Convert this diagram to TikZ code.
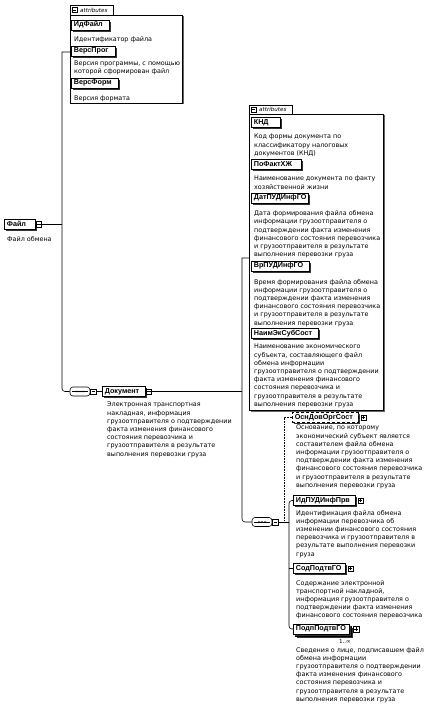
\documentclass[tikz,border=0pt]{standalone}
\usepackage{fontspec}
\setmainfont{DejaVu Sans}
\newfontfamily\nmfam{Liberation Sans}
\usetikzlibrary{shadows}
\newcommand\dscf{\fontsize{6.4}{8.2}\selectfont}
\newcommand\nmf{\nmfam\fontsize{7.2}{7.5}\selectfont\bfseries}
\tikzset{
  conn/.style={line width=0.6pt},
  opt/.style={line width=0.6pt, densely dotted},
  el/.style={draw, fill=white, line width=0.75pt, inner xsep=2.5pt, inner ysep=0pt, anchor=west,
    minimum height=10pt, font=\nmf, align=left, text width=#1,
    drop shadow={shadow xshift=1.8pt, shadow yshift=-1.8pt, fill=black!80, opacity=1}},
  optel/.style={el=#1, densely dashed},
  sq/.style={draw, fill=white, line width=0.5pt, minimum size=5.5pt, inner sep=0pt, anchor=west},
  desc/.style={anchor=north west, inner sep=0pt, align=left, font=\dscf},
  seqs/.style={draw, fill=white, rounded corners=3pt, minimum width=20pt,
    minimum height=9pt, inner sep=0pt, line width=0.6pt},
  panel/.style={draw, fill=white, line width=0.6pt, anchor=north west, inner sep=0pt,
    drop shadow={shadow xshift=1.2pt, shadow yshift=-1.2pt, fill=black!60, opacity=1}},
  tabbox/.style={draw, fill=white, line width=0.6pt, anchor=north west, inner sep=0pt,
    minimum width=43pt, minimum height=10pt},
  tabtxt/.style={anchor=west, inner sep=0pt, font=\fontsize{5.6}{6}\selectfont\itshape},
}
\newcommand\minussign[1]{\draw[line width=0.5pt] ([xshift=1.2pt]#1.west) -- ([xshift=-1.2pt]#1.east);}
\newcommand\plussign[1]{\minussign{#1}\draw[line width=0.5pt] ([yshift=-1.2pt]#1.north) -- ([yshift=1.2pt]#1.south);}
\begin{document}
\begin{tikzpicture}[x=1pt,y=-1pt]
\useasboundingbox[fill=white] (0,0) rectangle (433,706);

% ---------- panel 1 (attributes of Файл)
\node[panel, minimum width=112pt, minimum height=88pt] (pa) at (70,15) {};
\node[tabbox] (ta) at (70,5) {};
\node[sq, minimum size=5pt] (tas) at (72,10) {};
\minussign{tas}
\node[tabtxt] (tat) at (80,10) {attributes};

\node[el=33pt] (p1) at (71,25) {ИдФайл};
\node[desc] (p1d) at (74,36.3) {Идентификатор файла};
\node[el=39pt] (p2) at (71,51) {ВерсПрог};
\node[desc] (p2d) at (74,60.3) {Версия программы, с помощью\\которой сформирован файл};
\node[el=42pt] (p3) at (71,83) {ВерсФорм};
\node[desc] (p3d) at (74,95.5) {Версия формата};

% ---------- root element
\node[el=26pt] (f) at (4,224) {Файл};
\node[sq] (fm) at (f.east) {};
\minussign{fm}
\node[desc] (fd) at (7,236) {Файл обмена};

\coordinate (v1top) at (62,52);
\draw[conn] (fm.east) -- (fm.east -| v1top);

% ---------- sequence 1 and Документ
\node[seqs] (s1) at (80,391.5) {};
\draw[line width=0.6pt] ([xshift=2.5pt]s1.west) -- ([xshift=-2.5pt]s1.east);
\fill ([xshift=-3pt]s1.center) circle (0.9pt) (s1.center) circle (0.9pt) ([xshift=3pt]s1.center) circle (0.9pt);
\node[sq] (s1m) at (s1.east) {};
\minussign{s1m}

\draw[conn] (v1top -| pa.west) -- (v1top) [rounded corners=3pt] |- (s1.west);

\node[el=38pt] (d) at (102,391.5) {Документ};
\node[sq] (dm) at (d.east) {};
\minussign{dm}
\draw[conn] (s1m.east) -- (d.west);
\node[desc] (dd) at (107,402) {Электронная транспортная\\накладная, информация\\грузоотправителя о подтверждении\\факта изменения финансового\\состояния перевозчика и\\грузоотправителя в результате\\выполнения перевозки груза};

% ---------- panel 2 (attributes of Документ)
\node[panel, minimum width=134pt, minimum height=296pt] (pb) at (249,114) {};
\node[tabbox, minimum height=9pt] (tb) at (249,105) {};
\node[sq, minimum size=5pt] (tbs) at (251,109.5) {};
\minussign{tbs}
\node[tabtxt] (tbt) at (259,109.5) {attributes};

\node[el=24pt] (q1) at (251,122.5) {КНД};
\node[desc] (q1d) at (254,134) {Код формы документа по\\классификатору налоговых\\документов (КНД)};
\node[el=45pt] (q2) at (251,164.5) {ПоФактХЖ};
\node[desc] (q2d) at (254,176) {Наименование документа по факту\\хозяйственной жизни};
\node[el=52pt] (q3) at (251,198) {ДатПУДИнфГО};
\node[desc] (q3d) at (254,210.5) {Дата формирования файла обмена\\информации грузоотправителя о\\подтверждении факта изменения\\финансового состояния перевозчика\\и грузоотправителя в результате\\выполнения перевозки груза};
\node[el=53pt] (q4) at (251,266) {ВрПУДИнфГО};
\node[desc] (q4d) at (254,279) {Время формирования файла обмена\\информации грузоотправителя о\\подтверждении факта изменения\\финансового состояния перевозчика\\и грузоотправителя в результате\\выполнения перевозки груза};
\node[el=62pt] (q5) at (251,333.5) {НаимЭкСубСост};
\node[desc] (q5d) at (254,344) {Наименование экономического\\субъекта, составляющего файл\\обмена информации\\грузоотправителя о подтверждении\\факта изменения финансового\\состояния перевозчика и\\грузоотправителя в результате\\выполнения перевозки груза};

% ---------- sequence 2
\coordinate (v2top) at (242,258);
\node[seqs] (s2) at (262,522) {};
\draw[line width=0.6pt] ([xshift=2.5pt]s2.west) -- ([xshift=-2.5pt]s2.east);
\fill ([xshift=-3pt]s2.center) circle (0.9pt) (s2.center) circle (0.9pt) ([xshift=3pt]s2.center) circle (0.9pt);
\node[sq] (s2m) at (s2.east) {};
\minussign{s2m}

\draw[conn] (v2top -| pb.west) -- (v2top) [rounded corners=3pt] |- (s2.west);
\draw[conn] (dm.east) -- (dm.east -| v2top);

% ---------- children
\coordinate (bus) at (289,522);
\coordinate (obus) at (284,522);

\node[optel=61pt] (c1) at (292,417.5) {ОснДовОргСост};
\node[sq] (c1m) at ([xshift=1.8pt]c1.east) {};
\plussign{c1m}
\node[desc] (c1d) at (296,425) {Основание, по которому\\экономический субъект является\\составителем файла обмена\\информации грузоотправителя о\\подтверждении факта изменения\\финансового состояния перевозчика\\и грузоотправителя в результате\\выполнения перевозки груза};

\node[el=57pt] (c2) at (293,500.5) {ИдПУДИнфПрв};
\node[sq] (c2m) at ([xshift=1.8pt]c2.east) {};
\plussign{c2m}
\node[desc] (c2d) at (296,510) {Идентификация файла обмена\\информации перевозчика об\\изменении финансового состояния\\перевозчика и грузоотправителя в\\результате выполнения перевозки\\груза};

\node[el=47pt] (c3) at (293,568.5) {СодПодтвГО};
\node[sq] (c3m) at ([xshift=1.8pt]c3.east) {};
\plussign{c3m}
\node[desc] (c3d) at (296,580) {Содержание электронной\\транспортной накладной,\\информация грузоотправителя о\\подтверждении факта изменения\\финансового состояния перевозчика};

\node[el=51pt] (c4b) at (295,631) {};
\node[el=51pt] (c4) at (293,629) {ПодпПодтвГО};
\node[sq] (c4m) at ([xshift=3.5pt]c4.east) {};
\plussign{c4m}
\node[anchor=center, inner sep=0pt, font=\fontsize{5.6}{6}\selectfont] (c4n) at (345,641) {1..∞};
\node[desc] (c4d) at (296,647) {Сведения о лице, подписавшем файл\\обмена информации\\грузоотправителя о подтверждении\\факта изменения финансового\\состояния перевозчика и\\грузоотправителя в результате\\выполнения перевозки груза};

\draw[conn] (s2m.east) -- (bus);
\draw[opt] (c1.west) -| (obus);
\draw[conn, rounded corners=3pt] (c2.west) -| (bus) |- (c4.west);
\draw[conn] (c3.west) -- (c3.west -| bus);
\end{tikzpicture}
\end{document}
